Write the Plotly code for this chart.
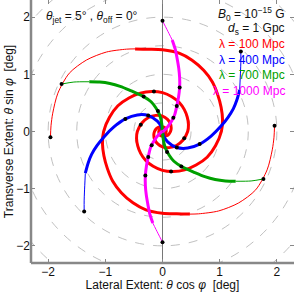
import plotly.graph_objects as go

# ---------------- data ----------------
ring_radii = [0.5, 1.0, 1.5, 2.0, 2.5, 3.0]
tick_vals = [-2, -1, 0, 1, 2]
tick_text = ["\u22122", "\u22121", "0", "1", "2"]

series_names = ["\u03bb = 100 Mpc", "\u03bb = 400 Mpc", "\u03bb = 700 Mpc", "\u03bb = 1000 Mpc"]
series_colors = ["#ff0000", "#0000ff", "#00a000", "#ff00ff"]

# lambda = 100 Mpc (red), arm 1 and arm 2
red1_thin_x = [-1.96, -1.95, -1.92, -1.83, -1.63, -1.33, -0.98, -0.63, -0.48]
red1_thin_y = [-0.10, 0.10, 0.32, 0.67, 1.02, 1.25, 1.39, 1.44, 1.445]
red1_thick_x = [-0.48, -0.25, 0.0, 0.29, 0.517, 0.72, 0.87, 0.965, 1.025, 1.05, 1.03, 0.927, 0.78, 0.587,
                0.388, 0.188, 0.0, -0.163, -0.293, -0.382, -0.433, -0.454, -0.44, -0.36, -0.244, -0.117,
                0.0, 0.088, 0.138, 0.152, 0.14, 0.111, 0.074, 0.0, -0.053, -0.065, -0.042, 0.0]
red1_thick_y = [1.445, 1.44, 1.43, 1.37, 1.247, 1.07, 0.87, 0.645, 0.425, 0.21, 0.0, -0.248, -0.45, -0.587,
                -0.671, -0.70, -0.68, -0.609, -0.507, -0.382, -0.25, -0.122, 0.0, 0.149, 0.244, 0.282,
                0.27, 0.213, 0.138, 0.063, 0.0, -0.046, -0.074, -0.085, -0.053, 0.0, 0.042, 0.055]
red1_dot_x = [-1.96, 0.15, -0.38]
red1_dot_y = [-0.10, -0.70, 0.117]

red2_thin_x = [1.96, 1.95, 1.92, 1.83, 1.63, 1.33, 0.98, 0.63, 0.48]
red2_thin_y = [0.10, -0.10, -0.32, -0.67, -1.02, -1.25, -1.39, -1.44, -1.445]
red2_thick_x = [0.48, 0.25, 0.0, -0.29, -0.517, -0.72, -0.87, -0.965, -1.025, -1.05, -1.03, -0.927, -0.78, -0.587,
                -0.388, -0.188, 0.0, 0.163, 0.293, 0.382, 0.433, 0.454, 0.44, 0.36, 0.244, 0.117,
                0.0, -0.088, -0.138, -0.152, -0.14, -0.111, -0.074, 0.0, 0.053, 0.065, 0.042, 0.0]
red2_thick_y = [-1.445, -1.44, -1.43, -1.37, -1.247, -1.07, -0.87, -0.645, -0.425, -0.21, 0.0, 0.248, 0.45, 0.587,
                0.671, 0.70, 0.68, 0.609, 0.507, 0.382, 0.25, 0.122, 0.0, -0.149, -0.244, -0.282,
                -0.27, -0.213, -0.138, -0.063, 0.0, 0.046, 0.074, 0.085, 0.053, 0.0, -0.042, -0.055]
red2_dot_x = [1.96, -0.15, 0.38]
red2_dot_y = [0.10, 0.70, -0.117]

# lambda = 400 Mpc (blue)
blue1_thin_x = [-1.37, -1.37, -1.36, -1.35]
blue1_thin_y = [-1.40, -1.20, -0.95, -0.73]
blue1_thick_x = [-1.35, -1.30, -1.24, -1.14, -1.02, -0.85, -0.65, -0.44, -0.25, -0.09, -0.02, 0.0]
blue1_thick_y = [-0.73, -0.55, -0.40, -0.24, -0.09, 0.08, 0.22, 0.29, 0.28, 0.18, 0.08, 0.0]
blue1_dot_x = [-1.37, -0.65, -0.25]
blue1_dot_y = [-1.40, 0.22, 0.28]

blue2_thin_x = [1.37, 1.37, 1.36, 1.35]
blue2_thin_y = [1.40, 1.20, 0.95, 0.73]
blue2_thick_x = [1.35, 1.30, 1.24, 1.14, 1.02, 0.85, 0.65, 0.44, 0.25, 0.09, 0.02, 0.0]
blue2_thick_y = [0.73, 0.55, 0.40, 0.24, 0.09, -0.08, -0.22, -0.29, -0.28, -0.18, -0.08, 0.0]
blue2_dot_x = [1.37, 0.65, 0.25]
blue2_dot_y = [1.40, -0.22, -0.28]

# lambda = 700 Mpc (green)
green1_thin_x = [-1.765, -1.55, -1.28]
green1_thin_y = [0.83, 0.865, 0.87]
green1_thick_x = [-1.28, -1.10, -0.92, -0.74, -0.57, -0.33, -0.20, -0.12, -0.05, -0.015, 0.0]
green1_thick_y = [0.87, 0.865, 0.84, 0.79, 0.72, 0.61, 0.52, 0.42, 0.29, 0.15, 0.0]
green1_dot_x = [-1.765, -0.33, -0.08]
green1_dot_y = [0.83, 0.61, 0.36]

green2_thin_x = [1.765, 1.55, 1.28]
green2_thin_y = [-0.83, -0.865, -0.87]
green2_thick_x = [1.28, 1.10, 0.92, 0.74, 0.57, 0.33, 0.20, 0.12, 0.05, 0.015, 0.0]
green2_thick_y = [-0.87, -0.865, -0.84, -0.79, -0.72, -0.61, -0.52, -0.42, -0.29, -0.15, 0.0]
green2_dot_x = [1.765, 0.33, 0.08]
green2_dot_y = [-0.83, -0.61, -0.36]

# lambda = 1000 Mpc (magenta)
mag1_thin_x = [0.0, 0.08, 0.17]
mag1_thin_y = [1.935, 1.78, 1.60]
mag1_thick_x = [0.17, 0.225, 0.255, 0.285, 0.30, 0.30, 0.28, 0.25, 0.215, 0.19, 0.14, 0.08, 0.02, 0.0]
mag1_thick_y = [1.60, 1.43, 1.28, 1.10, 0.94, 0.77, 0.60, 0.445, 0.30, 0.24, 0.15, 0.07, 0.01, 0.0]
mag1_dot_x = [0.0, 0.30, 0.25, 0.19]
mag1_dot_y = [1.935, 0.77, 0.445, 0.24]

mag2_thin_x = [0.0, -0.08, -0.17]
mag2_thin_y = [-1.935, -1.78, -1.60]
mag2_thick_x = [-0.17, -0.225, -0.255, -0.285, -0.30, -0.30, -0.28, -0.25, -0.215, -0.19, -0.14, -0.08, -0.02, 0.0]
mag2_thick_y = [-1.60, -1.43, -1.28, -1.10, -0.94, -0.77, -0.60, -0.445, -0.30, -0.24, -0.15, -0.07, -0.01, 0.0]
mag2_dot_x = [0.0, -0.30, -0.25, -0.19]
mag2_dot_y = [-1.935, -0.77, -0.445, -0.24]

arms = [
    (0, red1_thin_x, red1_thin_y, red1_thick_x, red1_thick_y, red1_dot_x, red1_dot_y),
    (0, red2_thin_x, red2_thin_y, red2_thick_x, red2_thick_y, red2_dot_x, red2_dot_y),
    (1, blue1_thin_x, blue1_thin_y, blue1_thick_x, blue1_thick_y, blue1_dot_x, blue1_dot_y),
    (1, blue2_thin_x, blue2_thin_y, blue2_thick_x, blue2_thick_y, blue2_dot_x, blue2_dot_y),
    (2, green1_thin_x, green1_thin_y, green1_thick_x, green1_thick_y, green1_dot_x, green1_dot_y),
    (2, green2_thin_x, green2_thin_y, green2_thick_x, green2_thick_y, green2_dot_x, green2_dot_y),
    (3, mag1_thin_x, mag1_thin_y, mag1_thick_x, mag1_thick_y, mag1_dot_x, mag1_dot_y),
    (3, mag2_thin_x, mag2_thin_y, mag2_thick_x, mag2_thick_y, mag2_dot_x, mag2_dot_y),
]

# ---------------- figure ----------------
fig = go.Figure()

shapes = []
for r in ring_radii:
    shapes.append(dict(type="circle", xref="x", yref="y", x0=-r, y0=-r, x1=r, y1=r,
                       line=dict(color="#b0b0b0", width=0.8, dash="dash"), layer="below"))
shapes.append(dict(type="line", xref="paper", yref="paper", x0=0, y0=0, x1=0, y1=1,
                   line=dict(color="#888888", width=2.5)))
shapes.append(dict(type="line", xref="paper", yref="paper", x0=0, y0=0, x1=1, y1=0,
                   line=dict(color="#888888", width=2.5)))

for ci, tx, ty, kx, ky, dx, dy in arms:
    col = series_colors[ci]
    fig.add_trace(go.Scatter(x=tx, y=ty, mode="lines",
                             line=dict(color=col, width=1, shape="spline", smoothing=0.8),
                             showlegend=False, hoverinfo="skip"))
    fig.add_trace(go.Scatter(x=kx, y=ky, mode="lines",
                             line=dict(color=col, width=3, shape="spline", smoothing=0.8),
                             showlegend=False, name=series_names[ci]))
for ci, tx, ty, kx, ky, dx, dy in arms:
    fig.add_trace(go.Scatter(x=dx, y=dy, mode="markers", marker=dict(color="black", size=4),
                             showlegend=False, hoverinfo="skip"))

font_main = "Liberation Sans, Arial, sans-serif"

annotations = [
    dict(text="<i>\u03b8</i><sub>jet</sub> = 5\u00b0 , <i>\u03b8</i><sub>off</sub> = 0\u00b0",
         xref="paper", yref="paper", x=0.05, y=0.935, xanchor="left", yanchor="middle",
         showarrow=False, font=dict(size=12, color="#111111")),
    dict(text="<i>B</i><sub>0</sub> = 10<sup>\u221215</sup> G", xref="paper", yref="paper",
         x=0.975, y=0.948, xanchor="right", yanchor="middle", showarrow=False,
         font=dict(size=12, color="#111111")),
    dict(text="<i>d</i><sub>s</sub> = 1 Gpc", xref="paper", yref="paper",
         x=0.975, y=0.889, xanchor="right", yanchor="middle", showarrow=False,
         font=dict(size=12, color="#111111")),
]
label_y = [0.832, 0.772, 0.715, 0.655]
for i in range(4):
    annotations.append(dict(text=series_names[i], xref="paper", yref="paper", x=0.975, y=label_y[i],
                            xanchor="right", yanchor="middle", showarrow=False,
                            font=dict(size=12, color=series_colors[i])))

fig.update_layout(
    width=295, height=292,
    margin=dict(l=31, r=1, t=0, b=29, autoexpand=False),
    paper_bgcolor="white", plot_bgcolor="white",
    font=dict(family=font_main, size=12, color="#111111"),
    shapes=shapes, annotations=annotations,
    xaxis=dict(range=[-2.3, 2.3], tickvals=tick_vals, ticktext=tick_text, ticks="inside", ticklen=4,
               tickcolor="#888888", mirror="ticks", showline=False, showgrid=False, automargin=False,
               zeroline=True, zerolinecolor="#777777", zerolinewidth=1,
               title=dict(text="Lateral Extent: <i>\u03b8</i> cos <i>\u03c6</i> \u00a0[deg]", standoff=0,
                          font=dict(size=12)),
               tickfont=dict(size=12)),
    yaxis=dict(range=[-2.3, 2.3], tickvals=tick_vals, ticktext=tick_text, ticks="inside", ticklen=4,
               tickcolor="#888888", mirror="ticks", showline=False, showgrid=False, automargin=False,
               zeroline=False,
               title=dict(text="Transverse Extent: <i>\u03b8</i> sin <i>\u03c6</i> \u00a0[deg]", standoff=0,
                          font=dict(size=12)),
               tickfont=dict(size=12)),
)

fig.write_html("out.html", config={"displayModeBar": False},
               post_script="document.body.style.margin='0';document.body.style.padding='0';")
